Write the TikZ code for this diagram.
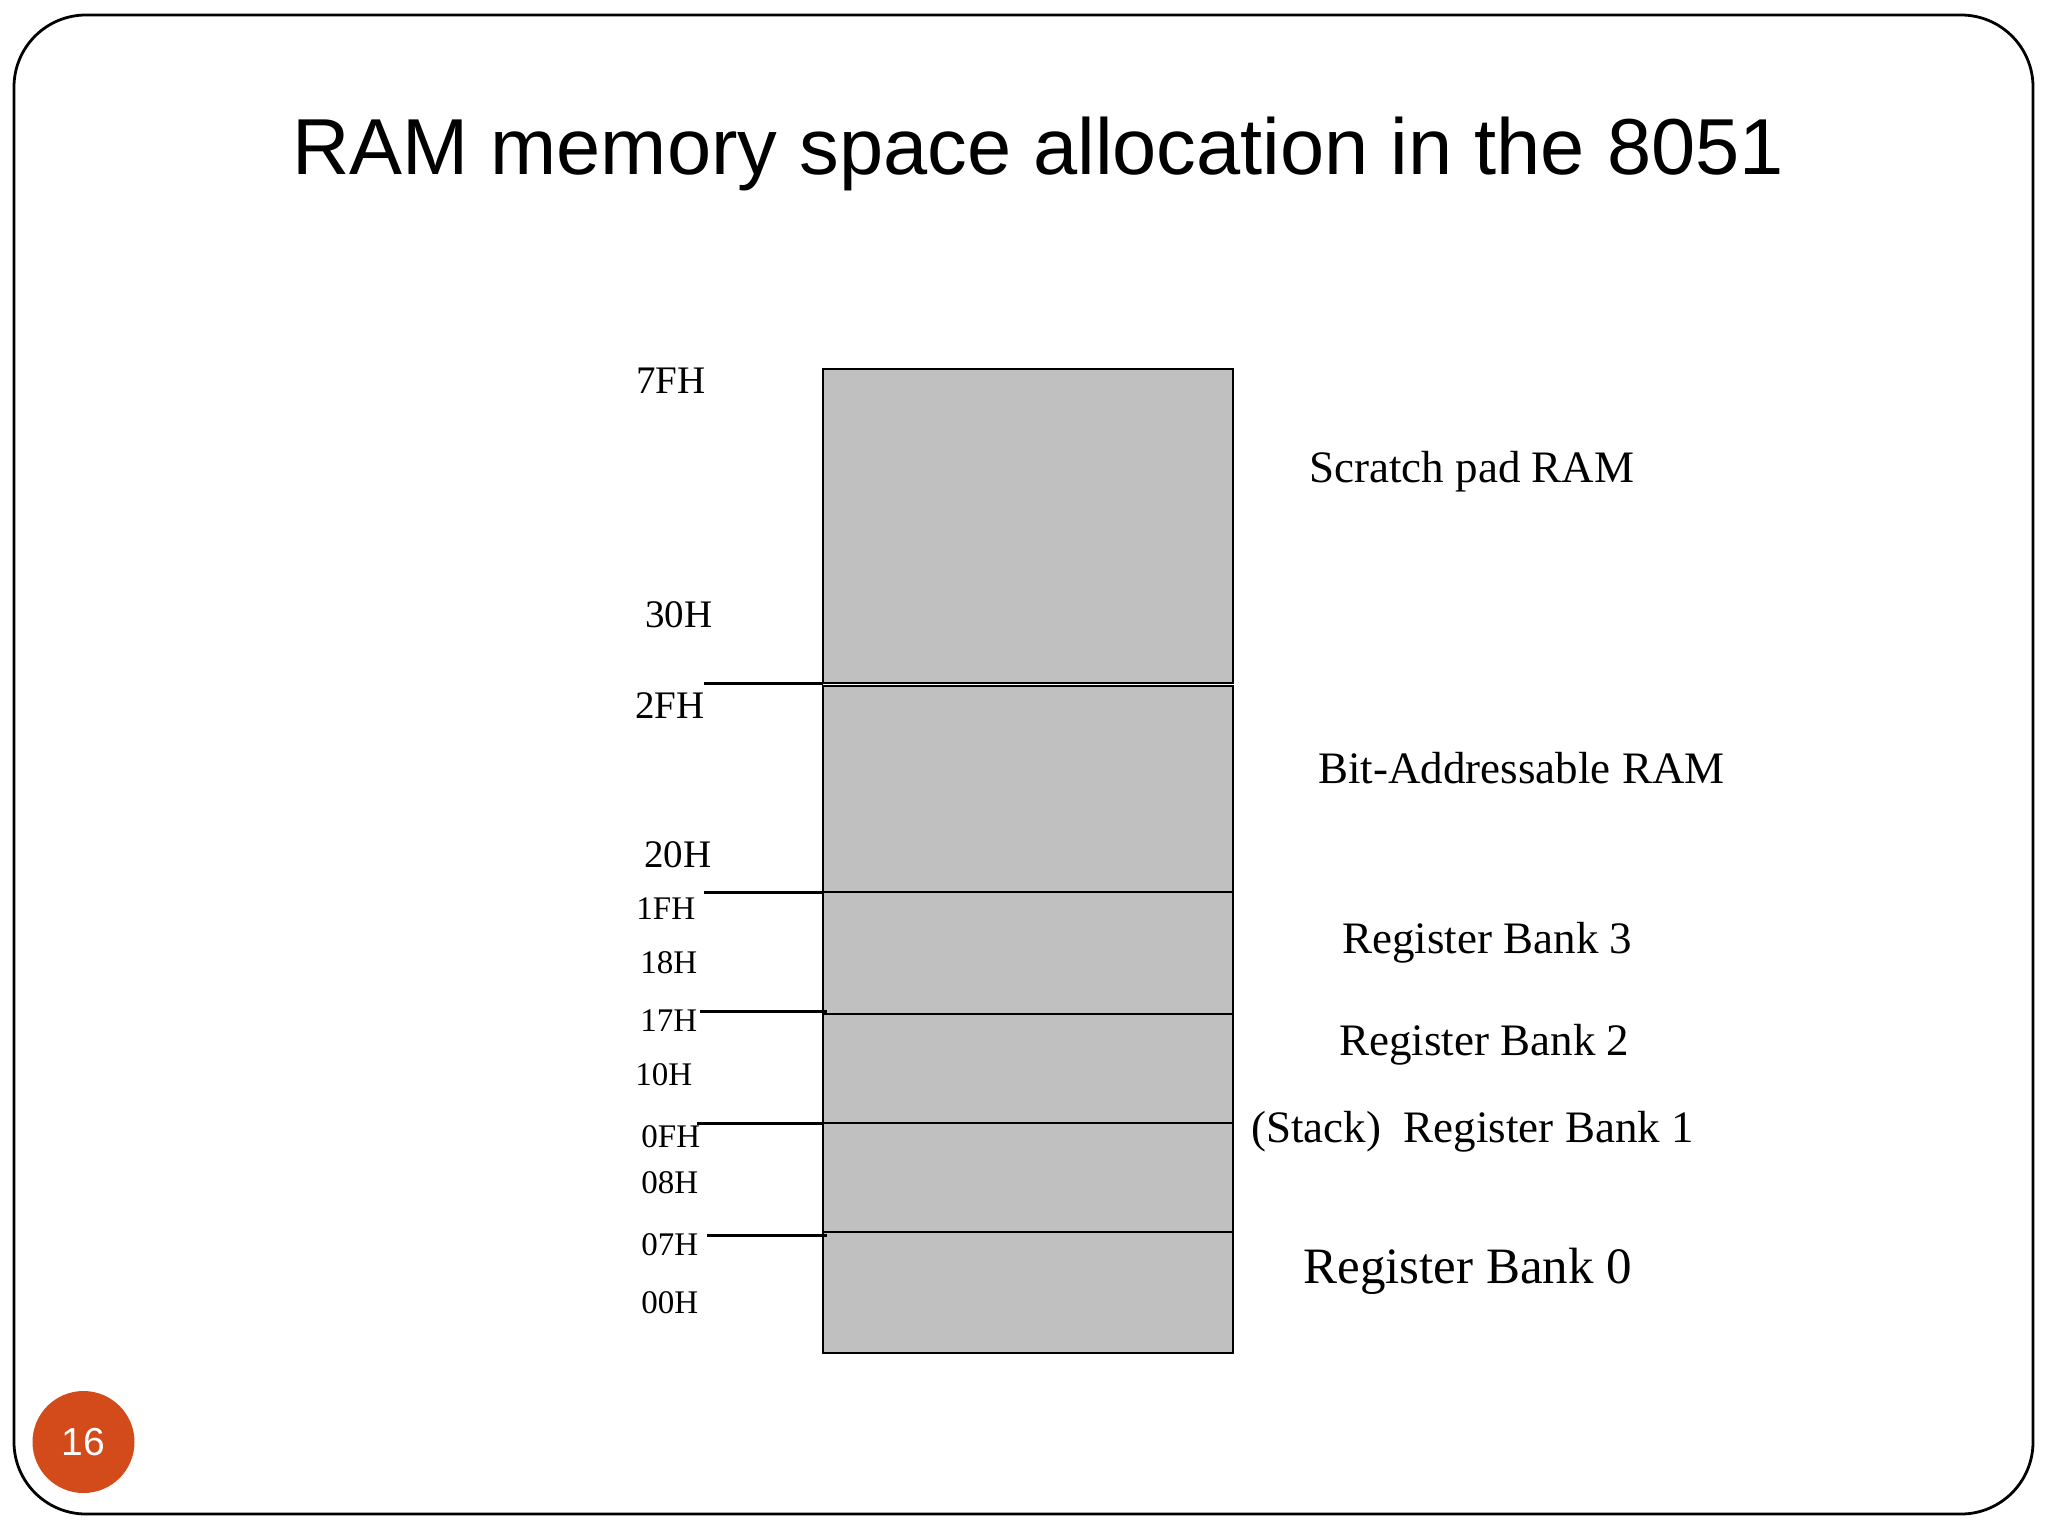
\documentclass[tikz,border=0pt]{standalone}
\usepackage{fontspec}
\setmainfont{Liberation Serif}
\newfontfamily\arialfont{Liberation Sans}
\definecolor{memgray}{RGB}{192,192,192}
\definecolor{badge}{RGB}{211,75,26}
\begin{document}
\begin{tikzpicture}[x=0.5pt,y=-0.5pt,
  region/.style={fill=memgray,draw=black,line width=1.4pt},
  tick/.style={draw=black,line width=1.5pt},
  addrbig/.style={anchor=base west,inner sep=0pt,font=\fontsize{19.5pt}{22pt}\selectfont},
  addrsmall/.style={anchor=base west,inner sep=0pt,font=\fontsize{16.5pt}{19pt}\selectfont},
  regionlabel/.style={anchor=base west,inner sep=0pt,font=\fontsize{22.5pt}{26pt}\selectfont}]
\useasboundingbox (0,0) rectangle (2048,1536);
% slide frame
\draw[line width=1.4pt,rounded corners=36pt] (14,15) rectangle (2033,1514);
% title
\node[anchor=base,inner sep=0pt,font=\arialfont\fontsize{39.7pt}{46pt}\selectfont] (title) at (1038,174) {RAM memory space allocation in the 8051};
% memory regions
\draw[region] (823,369) rectangle (1233,683);
\draw[region] (823,686) rectangle (1233,892);
\draw[region] (823,892) rectangle (1233,1014);
\draw[region] (823,1014) rectangle (1233,1123);
\draw[region] (823,1123) rectangle (1233,1232);
\draw[region] (823,1232) rectangle (1233,1353);
% boundary ticks
\coordinate (t1a) at (704,683); \coordinate (t1b) at (823,683);
\coordinate (t2a) at (704,892); \coordinate (t2b) at (823,892);
\coordinate (t3a) at (700,1011); \coordinate (t3b) at (827,1011);
\coordinate (t4a) at (697,1123); \coordinate (t4b) at (823,1123);
\coordinate (t5a) at (707,1235); \coordinate (t5b) at (827,1235);
\draw[tick] (t1a) -- (t1b);
\draw[tick] (t2a) -- (t2b);
\draw[tick] (t3a) -- (t3b);
\draw[tick] (t4a) -- (t4b);
\draw[tick] (t5a) -- (t5b);
% address labels
\node[addrbig] (a7f) at (636,393) {7FH};
\node[addrbig] (a30) at (645,627) {30H};
\node[addrbig] (a2f) at (635,718) {2FH};
\node[addrbig] (a20) at (644,867) {20H};
\node[addrsmall] (a1f) at (636,919) {1FH};
\node[addrsmall] (a18) at (640,973) {18H};
\node[addrsmall] (a17) at (640,1031) {17H};
\node[addrsmall] (a10) at (635,1085) {10H};
\node[addrsmall] (a0f) at (641,1147) {0FH};
\node[addrsmall] (a08) at (641,1193) {08H};
\node[addrsmall] (a07) at (641,1255) {07H};
\node[addrsmall] (a00) at (641,1313) {00H};
% region labels
\node[regionlabel] (lscr) at (1309,482) {Scratch pad RAM};
\node[regionlabel] (lbit) at (1318,783) {Bit-Addressable RAM};
\node[regionlabel] (lb3) at (1342,953) {Register Bank 3};
\node[regionlabel] (lb2) at (1339,1055) {Register Bank 2};
\node[regionlabel] (lb1) at (1251,1142) {(Stack)\hspace{0.5em}Register Bank 1};
\node[regionlabel,font=\fontsize{25.5pt}{29pt}\selectfont] (lb0) at (1303,1283) {Register Bank 0};
% page number badge
\fill[badge] (83.5,1442) circle[radius=25.5pt];
\node[inner sep=0pt,text=white,font=\arialfont\fontsize{19.5pt}{22pt}\selectfont] (pg) at (83.5,1442) {16};
\end{tikzpicture}
\end{document}
